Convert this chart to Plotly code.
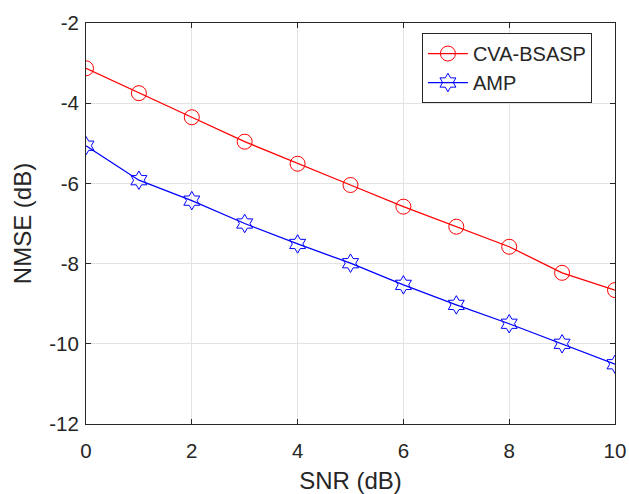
import plotly.graph_objects as go

snr = [0, 1, 2, 3, 4, 5, 6, 7, 8, 9, 10]
cva_bsasp = [-3.13, -3.75, -4.35, -4.96, -5.51, -6.04, -6.58, -7.08, -7.58, -8.23, -8.66]
amp = [-5.06, -5.92, -6.43, -7.00, -7.51, -7.99, -8.53, -9.03, -9.50, -10.00, -10.51]

x_ticks = [0, 2, 4, 6, 8, 10]
y_ticks = [-2, -4, -6, -8, -10, -12]

fig = go.Figure()
fig.add_trace(go.Scatter(
    x=snr, y=cva_bsasp, name="CVA-BSASP", mode="lines+markers",
    line=dict(color="#ff0000", width=1.3),
    marker=dict(symbol="circle-open", size=15, color="#ff0000", line=dict(width=1, color="#ff0000")),
))
fig.add_trace(go.Scatter(
    x=snr, y=amp, name="AMP", mode="lines+markers",
    line=dict(color="#0000ff", width=1.3),
    marker=dict(symbol="hexagram-open", size=14, color="#0000ff", line=dict(width=1, color="#0000ff")),
))

axis_common = dict(
    showgrid=True, gridcolor="#e3e3e3", gridwidth=1,
    showline=True, linecolor="#262626", linewidth=1, mirror="ticks",
    ticks="inside", ticklen=5, tickcolor="#262626",
    zeroline=False, automargin=False,
    tickfont=dict(family="Liberation Sans, Arial", size=20.5, color="#262626"),
)

fig.update_layout(
    width=629, height=494,
    margin=dict(l=86, r=14, t=23, b=70),
    paper_bgcolor="white", plot_bgcolor="white",
    font=dict(family="Liberation Sans, Arial", color="#262626"),
    xaxis=dict(range=[0, 10], tickvals=x_ticks, ticktext=[str(v) for v in x_ticks],
               ticklabelstandoff=8,
               title=dict(text="SNR (dB)", font=dict(size=24, color="#262626"), standoff=12),
               **axis_common),
    yaxis=dict(range=[-12, -2], tickvals=y_ticks, ticktext=[str(v) for v in y_ticks],
               ticklabelstandoff=2,
               title=dict(text="NMSE (dB)", font=dict(size=24, color="#262626"), standoff=10),
               **axis_common),
    legend=dict(x=0.635, y=0.975, xanchor="left", yanchor="top",
                bgcolor="white", bordercolor="#262626", borderwidth=1,
                font=dict(family="Liberation Sans, Arial", size=20, color="#262626"),
                tracegroupgap=0, itemwidth=40),
    showlegend=True,
)

fig.write_html("out.html")
